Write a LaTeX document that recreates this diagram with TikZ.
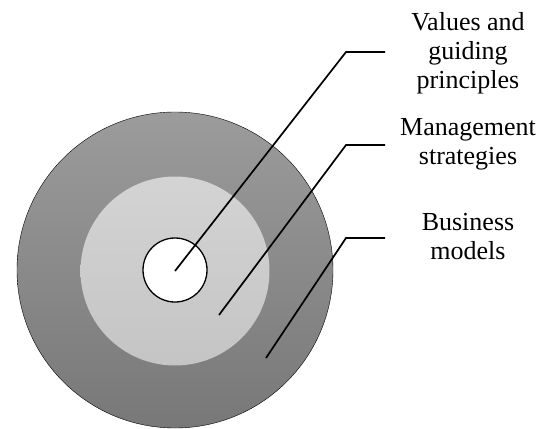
\documentclass[tikz,border=0pt]{standalone}
\usepackage{fontspec}
\setmainfont{Liberation Serif}
\usepackage{tikz}

\begin{document}
\begin{tikzpicture}[x=1pt,y=-1pt,
  ring/.style={circle,inner sep=0pt,outer sep=0pt},
  lead/.style={draw,line width=1.7pt},
  tag/.style={align=center,font=\fontsize{26}{29}\selectfont}]
  \useasboundingbox (0,0) rectangle (540,428);

  %rings
  \node[ring,minimum size=316pt,draw,thin,top color=black!39,bottom color=black!53] (outer) at (175,270) {};
  \node[ring,minimum size=189pt,top color=black!17,bottom color=black!23] (middle) at (175,271) {};
  \node[ring,minimum size=64pt,draw,line width=1.3pt,fill=white] (inner) at (175,270) {};

  %labels
  \node[tag] (values) at (468,53) {Values and\\guiding\\principles};
  \node[tag] (mgmt) at (468,144) {Management\\strategies};
  \node[tag] (biz) at (468,237) {Business\\models};

  %leaders
  \coordinate (values-end) at (175,271);
  \coordinate (values-knee) at (346,52);
  \coordinate (values-tip) at (385,52);
  \coordinate (mgmt-end) at (219,315);
  \coordinate (mgmt-knee) at (346,145);
  \coordinate (mgmt-tip) at (385,145);
  \coordinate (biz-end) at (266,358);
  \coordinate (biz-knee) at (346,238);
  \coordinate (biz-tip) at (385,238);
  \draw[lead] (values-end) -- (values-knee) -- (values-tip);
  \draw[lead] (mgmt-end) -- (mgmt-knee) -- (mgmt-tip);
  \draw[lead] (biz-end) -- (biz-knee) -- (biz-tip);
\end{tikzpicture}
\end{document}
